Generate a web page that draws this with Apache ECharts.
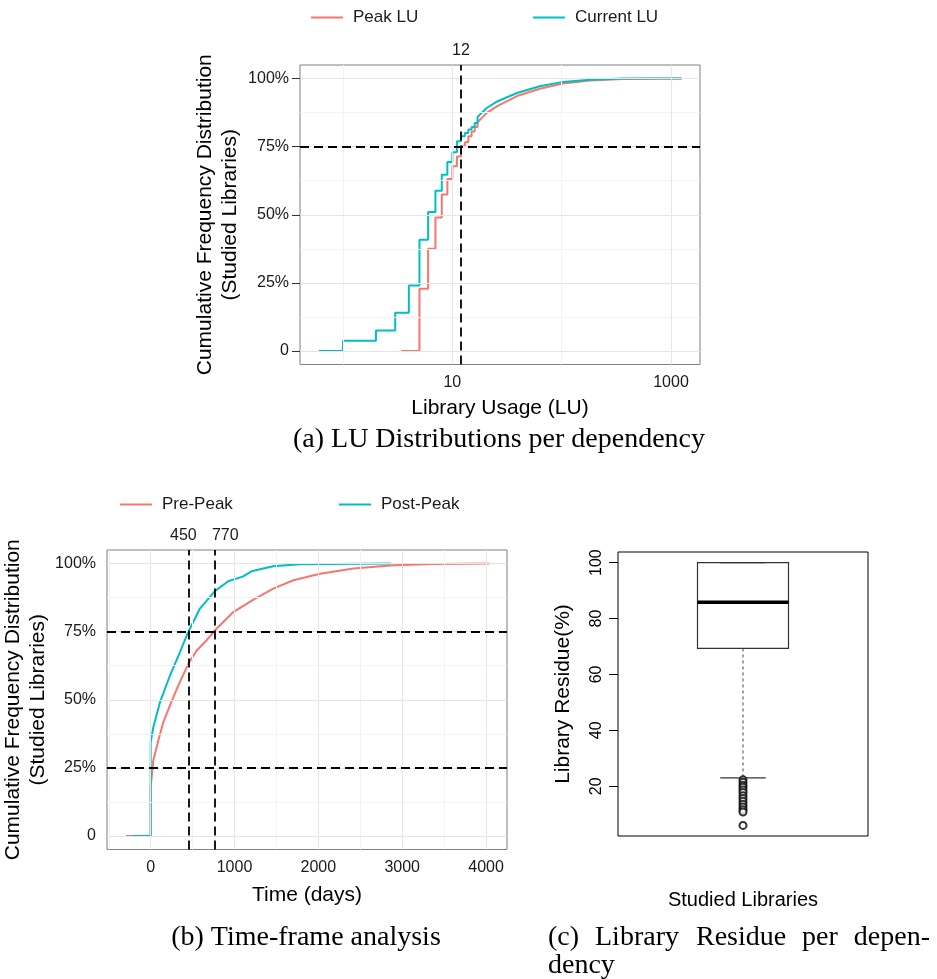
<!DOCTYPE html>
<html>
<head>
<meta charset="utf-8">
<script src="https://cdn.jsdelivr.net/npm/echarts@6/dist/echarts.min.js"></script>
<style>
html,body{margin:0;padding:0;background:#fff;}
#chart{width:937px;height:979px;}
</style>
</head>
<body>
<div id="chart"></div>
<script>
// ---------- (a) LU distributions (ECDF: LU value, cumulative %) ----------
// integer-valued part (drawn as steps) and the dense tail (drawn as a curve)
const luPeakStepX = [3.4, 5, 6, 7, 8, 9, 10, 11, 12, 13, 14, 15, 16, 17];
const luPeakStepPct = [0, 22.8, 37.5, 49.0, 57.4, 63.1, 67.8, 71.4, 75.2, 76.6, 78.8, 80.6, 82.2, 84.0];
const luPeakTailX = [18.5, 20.6, 26, 39, 63, 103, 181, 363, 1250];
const luPeakTailPct = [85.5, 87.4, 90.0, 93.6, 96.3, 98.2, 99.3, 99.9, 100];
const luCurrentStepX = [0.6, 1, 2, 3, 4, 5, 6, 7, 8, 9, 10, 11, 12, 13, 14, 15, 16, 17];
const luCurrentStepPct = [0, 3.7, 7.5, 14.0, 24.0, 40.8, 51.0, 58.8, 64.7, 69.4, 73.0, 77.0, 78.8, 80.0, 81.3, 82.2, 83.7, 85.9];
const luCurrentTailX = [18.5, 20.6, 26, 39, 63, 103, 181, 363, 1250];
const luCurrentTailPct = [87.4, 89.2, 91.7, 94.7, 97.2, 98.8, 99.6, 100, 100];
const luCutoff = 12;
const luPctCutoffs = [75];
const luTickLabels = [10, 1000];
const luMajorGrid = [10, 1000];
const luMinorGrid = [1, 100];

// ---------- (b) Time-frame analysis (days, cumulative %) ----------
const prePeakDays = [-295, 0, 0, 31, 91, 151, 230, 330, 449, 549, 648, 767, 986, 1225, 1463, 1702, 2020, 2418, 2895, 3373, 4041];
const prePeakPct = [0, 0, 17.9, 27.7, 35.0, 41.8, 47.9, 55.3, 63.2, 68.1, 71.2, 75.5, 82.2, 86.8, 90.8, 93.9, 96.3, 98.2, 99.4, 99.9, 100];
const postPeakDays = [-215, 0, 0, 32, 111, 230, 349, 448, 587, 766, 925, 1103, 1214, 1460, 1778, 2869];
const postPeakPct = [0, 0, 34.4, 40.0, 49.1, 58.9, 67.5, 74.9, 83.5, 89.9, 93.5, 95.3, 97.3, 99.0, 99.8, 100];
const dayCutoffs = [450, 770];
const dayPctCutoffs = [75, 25];
const dayTickLabels = [0, 1000, 2000, 3000, 4000];
const dayMajorGrid = [0, 1000, 2000, 3000, 4000];
const dayMinorGrid = [-500, 500, 1500, 2500, 3500];

// ---------- shared percent ticks ----------
const pctTicks = [0, 25, 50, 75, 100];
const pctMajorGrid = [0, 25, 50, 75, 100];
const pctMinorGrid = [12.5, 37.5, 62.5, 87.5];

// ---------- (c) Library residue boxplot ----------
const residueCategory = ['Studied Libraries'];
const residueBox = [23.0, 69.3, 85.8, 100, 100]; // low whisker, Q1, median, Q3, high whisker
const residueOutliers = [22.3, 21.4, 20.4, 19.6, 18.7, 17.8, 16.6, 15.6, 14.6, 13.6, 12.6, 11.6, 10.8, 6.0];
const residueTicks = [20, 40, 60, 80, 100];

const RED = '#F8766D', TEAL = '#00BFC4';
const SANS = '"Liberation Sans", Arial, Helvetica, sans-serif';
const SERIF = '"Liberation Serif", "Times New Roman", serif';
const zip = (xs, ys) => xs.map((x, i) => [x, ys[i]]);
// ECDF geometry: horizontal run then vertical jump at each observed value, then the dense tail
function ecdfPath(sx, sy, tx, ty) {
  const out = [];
  sx.forEach((x, i) => {
    if (i > 0) out.push([x, sy[i - 1]]);
    out.push([x, sy[i]]);
  });
  return out.concat(zip(tx, ty));
}

function gridMarkLines(xMajor, xMinor, yMajor, yMinor) {
  const major = {color: '#e6e6e6', width: 1, type: 'solid'};
  const minor = {color: '#f3f3f3', width: 1, type: 'solid'};
  const d = [];
  xMinor.forEach(v => d.push({xAxis: v, lineStyle: minor}));
  yMinor.forEach(v => d.push({yAxis: v, lineStyle: minor}));
  xMajor.forEach(v => d.push({xAxis: v, lineStyle: major}));
  yMajor.forEach(v => d.push({yAxis: v, lineStyle: major}));
  return {silent: true, symbol: ['none', 'none'], label: {show: false}, animation: false, data: d};
}

const dashStyle = {color: '#000', width: 1.8, type: [9, 5]};
const cutLabel = {show: true, position: 'end', distance: 6, color: '#1a1a1a', fontSize: 16, fontFamily: SANS, formatter: p => String(p.value)};

function pctLabel(v) { return v === 0 ? '0' : v + '%'; }
function plainLabel(v) { return String(v); }

const tickStyle = {show: true, length: 8, lineStyle: {color: '#333', width: 1}};
const labelBase = {color: '#1a1a1a', fontSize: 16, fontFamily: SANS};
const nameStyle = {color: '#000', fontSize: 21, fontFamily: SANS, lineHeight: 25};
const legendText = {fontSize: 17, fontFamily: SANS, color: '#1a1a1a', padding: [0, 0, 0, 5]};

const peakLUData = ecdfPath(luPeakStepX, luPeakStepPct, luPeakTailX, luPeakTailPct);
const currentLUData = ecdfPath(luCurrentStepX, luCurrentStepPct, luCurrentTailX, luCurrentTailPct);

const option = {
  backgroundColor: '#fff',
  animation: false,
  grid: [
    {left: 300, top: 65, width: 400, height: 299.5, show: true, borderColor: '#7f7f7f', borderWidth: 1, backgroundColor: 'transparent', containLabel: false},
    {left: 107, top: 550, width: 400, height: 299.5, show: true, borderColor: '#7f7f7f', borderWidth: 1, backgroundColor: 'transparent', containLabel: false},
    {left: 618, top: 552, width: 250, height: 284, show: true, borderColor: '#000', borderWidth: 1, backgroundColor: 'transparent', containLabel: false}
  ],
  legend: [
    {data: ['Peak LU'], left: 311, top: 9, padding: 0, icon: 'rect', itemWidth: 32, itemHeight: 2, textStyle: legendText, selectedMode: false},
    {data: ['Current LU'], left: 533, top: 9, padding: 0, icon: 'rect', itemWidth: 32, itemHeight: 2, textStyle: legendText, selectedMode: false},
    {data: ['Pre-Peak'], left: 120, top: 496, padding: 0, icon: 'rect', itemWidth: 32, itemHeight: 2, textStyle: legendText, selectedMode: false},
    {data: ['Post-Peak'], left: 339, top: 496, padding: 0, icon: 'rect', itemWidth: 32, itemHeight: 2, textStyle: legendText, selectedMode: false}
  ],
  xAxis: [
    {gridIndex: 0, type: 'log', logBase: 10, min: 0.404, max: 1841,
      name: 'Library Usage (LU)', nameLocation: 'middle', nameGap: 31, nameTextStyle: nameStyle,
      axisLine: {show: false}, splitLine: {show: false},
      axisTick: Object.assign({customValues: luTickLabels}, tickStyle),
      axisLabel: Object.assign({customValues: luTickLabels, margin: 10, formatter: plainLabel}, labelBase)},
    {gridIndex: 1, type: 'value', min: -521, max: 4250,
      name: 'Time (days)', nameLocation: 'middle', nameGap: 33, nameTextStyle: nameStyle,
      axisLine: {show: false}, splitLine: {show: false},
      axisTick: Object.assign({customValues: dayTickLabels}, tickStyle),
      axisLabel: Object.assign({customValues: dayTickLabels, margin: 10, formatter: plainLabel}, labelBase)},
    {gridIndex: 2, type: 'category', data: residueCategory,
      name: 'Studied Libraries', nameLocation: 'middle', nameGap: 54, nameTextStyle: {color: '#000', fontSize: 20, fontFamily: SANS},
      axisLine: {show: false}, axisTick: {show: false}, axisLabel: {show: false}, splitLine: {show: false}}
  ],
  yAxis: [
    {gridIndex: 0, type: 'value', min: -5, max: 105,
      name: 'Cumulative Frequency Distribution\n(Studied Libraries)', nameLocation: 'middle', nameGap: 57, nameTextStyle: nameStyle,
      axisLine: {show: false}, splitLine: {show: false},
      axisTick: Object.assign({customValues: pctTicks}, tickStyle),
      axisLabel: Object.assign({customValues: pctTicks, margin: 11, formatter: pctLabel}, labelBase)},
    {gridIndex: 1, type: 'value', min: -5, max: 105,
      name: 'Cumulative Frequency Distribution\n(Studied Libraries)', nameLocation: 'middle', nameGap: 52, nameTextStyle: nameStyle,
      axisLine: {show: false}, splitLine: {show: false},
      axisTick: Object.assign({customValues: pctTicks}, tickStyle),
      axisLabel: Object.assign({customValues: pctTicks, margin: 11, formatter: pctLabel}, labelBase)},
    {gridIndex: 2, type: 'value', min: 2.2, max: 103.8,
      name: 'Library Residue(%)', nameLocation: 'middle', nameGap: 44, nameTextStyle: {color: '#000', fontSize: 21, fontFamily: SANS},
      axisLine: {show: false}, splitLine: {show: false},
      axisTick: {show: true, customValues: residueTicks, length: 9, lineStyle: {color: '#000', width: 1}},
      axisLabel: {customValues: residueTicks, rotate: 90, margin: 13, color: '#000', fontSize: 16, fontFamily: SANS}}
  ],
  series: [
    // (a) background grid lines
    {type: 'line', xAxisIndex: 0, yAxisIndex: 0, z: 1, silent: true, showSymbol: false,
      data: peakLUData, lineStyle: {opacity: 0, width: 0},
      markLine: gridMarkLines(luMajorGrid, luMinorGrid, pctMajorGrid, pctMinorGrid)},
    {name: 'Peak LU', type: 'line', xAxisIndex: 0, yAxisIndex: 0, z: 3, showSymbol: false,
      data: peakLUData, color: RED, lineStyle: {color: RED, width: 2}, itemStyle: {color: RED}},
    {name: 'Current LU', type: 'line', xAxisIndex: 0, yAxisIndex: 0, z: 4, showSymbol: false,
      data: currentLUData, color: TEAL, lineStyle: {color: TEAL, width: 2}, itemStyle: {color: TEAL},
      markLine: {silent: true, symbol: ['none', 'none'], lineStyle: dashStyle, animation: false,
        data: [{xAxis: luCutoff, label: cutLabel}].concat(luPctCutoffs.map(v => ({yAxis: v, label: {show: false}})))}},
    // (b) background grid lines
    {type: 'line', xAxisIndex: 1, yAxisIndex: 1, z: 1, silent: true, showSymbol: false,
      data: zip(prePeakDays, prePeakPct), lineStyle: {opacity: 0, width: 0},
      markLine: gridMarkLines(dayMajorGrid, dayMinorGrid, pctMajorGrid, pctMinorGrid)},
    {name: 'Pre-Peak', type: 'line', xAxisIndex: 1, yAxisIndex: 1, z: 3, showSymbol: false,
      data: zip(prePeakDays, prePeakPct), color: RED, lineStyle: {color: RED, width: 2}, itemStyle: {color: RED}},
    {name: 'Post-Peak', type: 'line', xAxisIndex: 1, yAxisIndex: 1, z: 4, showSymbol: false,
      data: zip(postPeakDays, postPeakPct), color: TEAL, lineStyle: {color: TEAL, width: 2}, itemStyle: {color: TEAL},
      markLine: {silent: true, symbol: ['none', 'none'], lineStyle: dashStyle, animation: false,
        data: [
          {xAxis: dayCutoffs[0], label: Object.assign({}, cutLabel, {offset: [-5, 0]})},
          {xAxis: dayCutoffs[1], label: Object.assign({}, cutLabel, {offset: [10, 0]})}
        ].concat(dayPctCutoffs.map(v => ({yAxis: v, label: {show: false}})))}},
    // (c) boxplot
    {type: 'custom', xAxisIndex: 2, yAxisIndex: 2, z: 3,
      data: [[0].concat(residueBox)],
      encode: {x: 0, y: [1, 2, 3, 4, 5]},
      renderItem: function (params, api) {
        const cat = api.value(0);
        const lo = api.coord([cat, api.value(1)]);
        const q1 = api.coord([cat, api.value(2)]);
        const med = api.coord([cat, api.value(3)]);
        const q3 = api.coord([cat, api.value(4)]);
        const hi = api.coord([cat, api.value(5)]);
        const band = api.size([1, 0])[0];
        const bh = band * 0.182, ch = band * 0.091;
        const x = med[0];
        const dash = {stroke: '#444', lineWidth: 1, lineDash: [3, 3], fill: null};
        const solid = {stroke: '#333', lineWidth: 1.2, fill: null};
        return {type: 'group', children: [
          {type: 'line', shape: {x1: x, y1: q1[1], x2: x, y2: lo[1]}, style: dash},
          {type: 'line', shape: {x1: x, y1: q3[1], x2: x, y2: hi[1]}, style: dash},
          {type: 'line', shape: {x1: x - ch, y1: lo[1], x2: x + ch, y2: lo[1]}, style: solid},
          {type: 'line', shape: {x1: x - ch, y1: hi[1], x2: x + ch, y2: hi[1]}, style: solid},
          {type: 'rect', shape: {x: x - bh, y: q3[1], width: 2 * bh, height: q1[1] - q3[1]}, style: {stroke: '#333', lineWidth: 1.2, fill: 'transparent'}},
          {type: 'line', shape: {x1: x - bh, y1: med[1], x2: x + bh, y2: med[1]}, style: {stroke: '#000', lineWidth: 3.5}}
        ]};
      }},
    {type: 'scatter', xAxisIndex: 2, yAxisIndex: 2, z: 4, symbol: 'emptyCircle', symbolSize: 7,
      data: residueOutliers.map(v => [0, v]),
      itemStyle: {color: '#000', borderColor: '#000', borderWidth: 0.9}}
  ],
  graphic: [
    {type: 'text', x: 499, y: 440, style: {text: '(a) LU Distributions per dependency', font: '28px ' + SERIF, fill: '#000', align: 'center', verticalAlign: 'middle', textAlign: 'center', textVerticalAlign: 'middle'}},
    {type: 'text', x: 306, y: 938, style: {text: '(b) Time-frame analysis', font: '28px ' + SERIF, fill: '#000', align: 'center', verticalAlign: 'middle', textAlign: 'center', textVerticalAlign: 'middle'}},
    {type: 'text', x: 548, y: 938, style: {text: '(c)', font: '28px ' + SERIF, fill: '#000', align: 'left', verticalAlign: 'middle', textAlign: 'left', textVerticalAlign: 'middle'}},
    {type: 'text', x: 595, y: 938, style: {text: 'Library', font: '28px ' + SERIF, fill: '#000', align: 'left', verticalAlign: 'middle', textAlign: 'left', textVerticalAlign: 'middle'}},
    {type: 'text', x: 696, y: 938, style: {text: 'Residue', font: '28px ' + SERIF, fill: '#000', align: 'left', verticalAlign: 'middle', textAlign: 'left', textVerticalAlign: 'middle'}},
    {type: 'text', x: 802, y: 938, style: {text: 'per', font: '28px ' + SERIF, fill: '#000', align: 'left', verticalAlign: 'middle', textAlign: 'left', textVerticalAlign: 'middle'}},
    {type: 'text', x: 930, y: 938, style: {text: 'depen-', font: '28px ' + SERIF, fill: '#000', align: 'right', verticalAlign: 'middle', textAlign: 'right', textVerticalAlign: 'middle'}},
    {type: 'text', x: 548, y: 966, style: {text: 'dency', font: '28px ' + SERIF, fill: '#000', align: 'left', verticalAlign: 'middle', textAlign: 'left', textVerticalAlign: 'middle'}}
  ]
};

const chart = echarts.init(document.getElementById('chart'), null, {renderer: 'canvas', width: 937, height: 979});
chart.setOption(option);
</script>
</body>
</html>
